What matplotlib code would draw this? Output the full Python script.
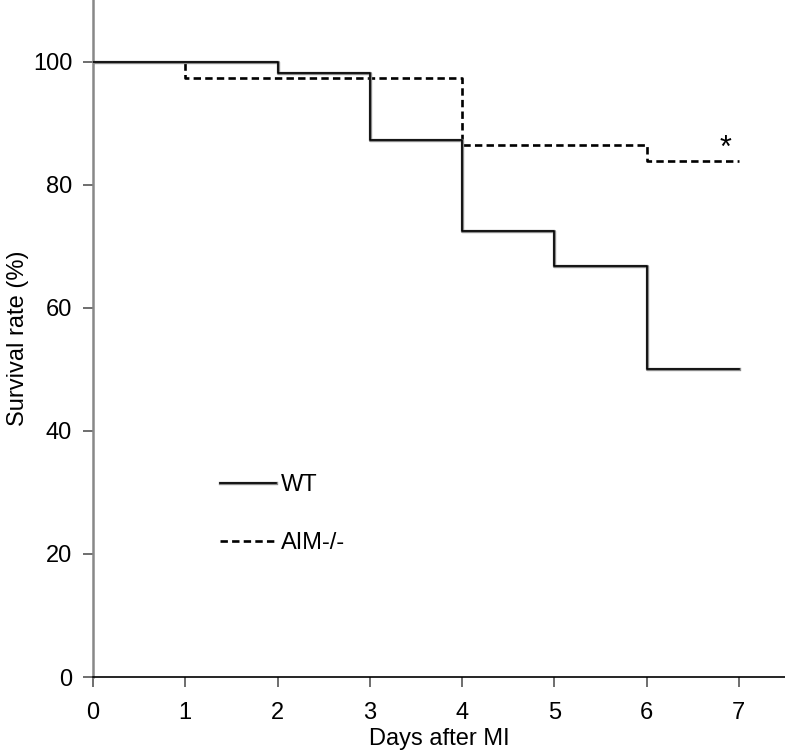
import matplotlib
matplotlib.use("Agg")
import matplotlib.pyplot as plt
from matplotlib.lines import Line2D

plt.rcParams['font.family'] = ['Liberation Sans', 'DejaVu Sans']

days = [0, 1, 2, 3, 4, 5, 6, 7]
wt_survival = [100, 100, 98.2, 87.3, 72.4, 66.7, 50.0, 50.0]
aim_survival = [100, 97.3, 97.3, 97.3, 86.5, 86.5, 83.8, 83.8]
x_ticks = [0, 1, 2, 3, 4, 5, 6, 7]
y_ticks = [0, 20, 40, 60, 80, 100]

fig = plt.figure(figsize=(7.85, 7.55), dpi=100)
ax = fig.add_axes([93/785, 1 - 677/755, 1 - 93/785, 677/755])

ax.step(days, aim_survival, where='post', color='black', lw=1.9,
        dashes=(2.8, 1.6), zorder=3)
ax.step(days, wt_survival, where='post', color='#8a8a8a', lw=2.4, zorder=4)
ax.step(days, wt_survival, where='post', color='black', lw=1.2, zorder=5)

ax.set_xlim(0, 7.5)
ax.set_ylim(0, 110)
ax.set_xticks(x_ticks)
ax.set_yticks(y_ticks)
ax.tick_params(axis='both', labelsize=17, direction='out', length=7, width=1.2,
               color='#555555')
ax.tick_params(axis='x', pad=11)
ax.tick_params(axis='y', pad=8)

for s in ['top', 'right']:
    ax.spines[s].set_visible(False)
ax.spines['left'].set_color('#888888')
ax.spines['left'].set_linewidth(1.8)
ax.spines['bottom'].set_color('black')
ax.spines['bottom'].set_linewidth(1.2)

ax.set_xlabel('Days after MI', fontsize=17, labelpad=3)
ax.set_ylabel('Survival rate (%)', fontsize=17, labelpad=3)

ax.text(6.85, 85.8, '*', fontsize=22, ha='center', va='center')

h_wt = (Line2D([], [], color='#8a8a8a', lw=2.4), Line2D([], [], color='black', lw=1.2))
h_aim = Line2D([], [], color='black', lw=1.9, dashes=(2.8, 1.6))
ax.legend([h_wt, h_aim], ['WT', 'AIM-/-'], loc='upper left',
          bbox_to_anchor=(0.183, 0.300), frameon=False, fontsize=17,
          handlelength=2.4, handletextpad=0.2, labelspacing=1.55,
          borderpad=0, borderaxespad=0)

fig.savefig('out.png', dpi=100)
